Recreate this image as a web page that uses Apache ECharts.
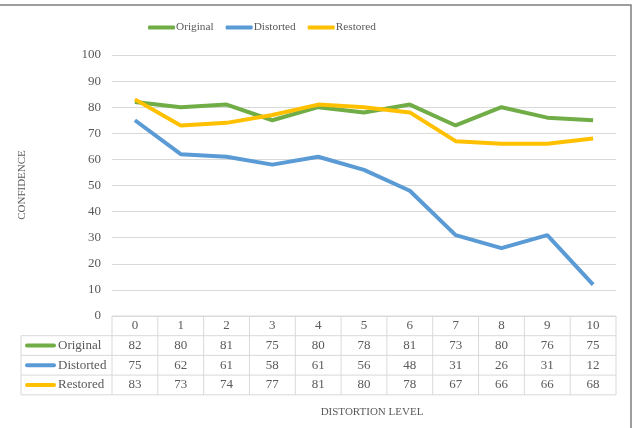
<!DOCTYPE html>
<html>
<head>
<meta charset="utf-8">
<script src="https://cdn.jsdelivr.net/npm/echarts@6/dist/echarts.min.js"></script>
<style>
  html, body { margin: 0; padding: 0; background: #fff; }
  #main { width: 634px; height: 428px; }
</style>
</head>
<body>
<div id="main"></div>
<script>
var categories = ['0', '1', '2', '3', '4', '5', '6', '7', '8', '9', '10'];
var original = [82, 80, 81, 75, 80, 78, 81, 73, 80, 76, 75];
var distorted = [75, 62, 61, 58, 61, 56, 48, 31, 26, 31, 12];
var restored = [83, 73, 74, 77, 81, 80, 78, 67, 66, 66, 68];
var seriesNames = ['Original', 'Distorted', 'Restored'];
var colors = ['#70AD47', '#5B9BD5', '#FFC000'];

var font = 'Liberation Serif';
var textColor = '#595959';
var lineColor = '#d9d9d9';

var chart = echarts.init(document.getElementById('main'));
var rows = [original, distorted, restored];

var option = {
    backgroundColor: '#fff',
    animation: false,
    textStyle: { fontFamily: font },
    legend: {
        left: 143,
        top: 17,
        itemGap: 12,
        itemWidth: 27,
        itemHeight: 4,
        icon: 'roundRect',
        textStyle: { fontFamily: font, fontSize: 11.3, color: textColor, padding: [0, 0, 0, -4] },
        data: seriesNames
    },
    grid: { left: 112, right: 18, top: 55, bottom: 112 },
    xAxis: {
        type: 'category',
        data: categories,
        boundaryGap: true,
        axisLine: { show: true, lineStyle: { color: lineColor } },
        axisTick: { show: false },
        axisLabel: { show: false }
    },
    yAxis: {
        type: 'value',
        min: 0,
        max: 100,
        interval: 10,
        axisLine: { show: false },
        axisTick: { show: false },
        axisLabel: { fontFamily: font, fontSize: 13, color: textColor, margin: 11 },
        splitLine: { lineStyle: { color: lineColor } }
    },
    series: seriesNames.map(function (name, i) {
        return {
            name: name,
            type: 'line',
            data: rows[i],
            symbol: 'none',
            z: i === 0 ? 2 : (i === 1 ? 3 : 4),
            lineStyle: { width: 4, color: colors[i] },
            itemStyle: { color: colors[i] }
        };
    })
};
chart.setOption(option);

// data table under the plot, placed from the axis scale
function buildTable() {
    var c0 = chart.convertToPixel({ xAxisIndex: 0 }, 0);
    var c1 = chart.convertToPixel({ xAxisIndex: 0 }, 1);
    var colW = c1 - c0;
    var left = c0 - colW / 2;
    var right = left + colW * categories.length;
    var top = chart.convertToPixel({ yAxisIndex: 0 }, 0);
    var rowH = 19.7;
    var legLeft = 21;
    var bottom = top + rowH * 4;
    var els = [];
    var ls = { stroke: lineColor, lineWidth: 1 };

    // horizontal lines
    els.push({ type: 'line', shape: { x1: left, y1: top, x2: right, y2: top }, style: ls });
    for (var r = 1; r <= 4; r++) {
        var y = top + rowH * r;
        els.push({ type: 'line', shape: { x1: legLeft, y1: y, x2: right, y2: y }, style: ls });
    }
    // vertical lines
    for (var k = 0; k <= categories.length; k++) {
        var x = left + colW * k;
        els.push({ type: 'line', shape: { x1: x, y1: top, x2: x, y2: bottom }, style: ls });
    }
    els.push({ type: 'line', shape: { x1: legLeft, y1: top + rowH, x2: legLeft, y2: bottom }, style: ls });

    var ts = function (txt, x, y, align) {
        return {
            type: 'text', x: x, y: y,
            style: { text: txt, fill: textColor, font: '13px "' + font + '"', textAlign: align || 'center', textVerticalAlign: 'middle' }
        };
    };
    categories.forEach(function (cat, i) {
        var cx = left + colW * (i + 0.5);
        els.push(ts(cat, cx, top + rowH * 0.5));
        rows.forEach(function (arr, j) {
            els.push(ts(String(arr[i]), cx, top + rowH * (j + 1.5)));
        });
    });
    seriesNames.forEach(function (name, j) {
        var cy = top + rowH * (j + 1.5);
        els.push({ type: 'rect', shape: { x: 25, y: cy - 2, width: 31, height: 4, r: 2 }, style: { fill: colors[j] } });
        els.push(ts(name, 58, cy, 'left'));
    });

    // axis titles
    els.push(ts('DISTORTION LEVEL', 372, 412));
    els[els.length - 1].style.font = '11px "' + font + '"';
    els.push({
        type: 'text', x: 22, y: 185, rotation: Math.PI / 2,
        style: { text: 'CONFIDENCE', fill: textColor, font: '11px "' + font + '"', textAlign: 'center', textVerticalAlign: 'middle' }
    });

    // outer frame
    els.push({ type: 'rect', shape: { x: -5, y: 5, width: 636, height: 440 }, style: { fill: 'none', stroke: '#7f7f7f', lineWidth: 1.5 } });

    chart.setOption({ graphic: els });
}
buildTable();
</script>
</body>
</html>
